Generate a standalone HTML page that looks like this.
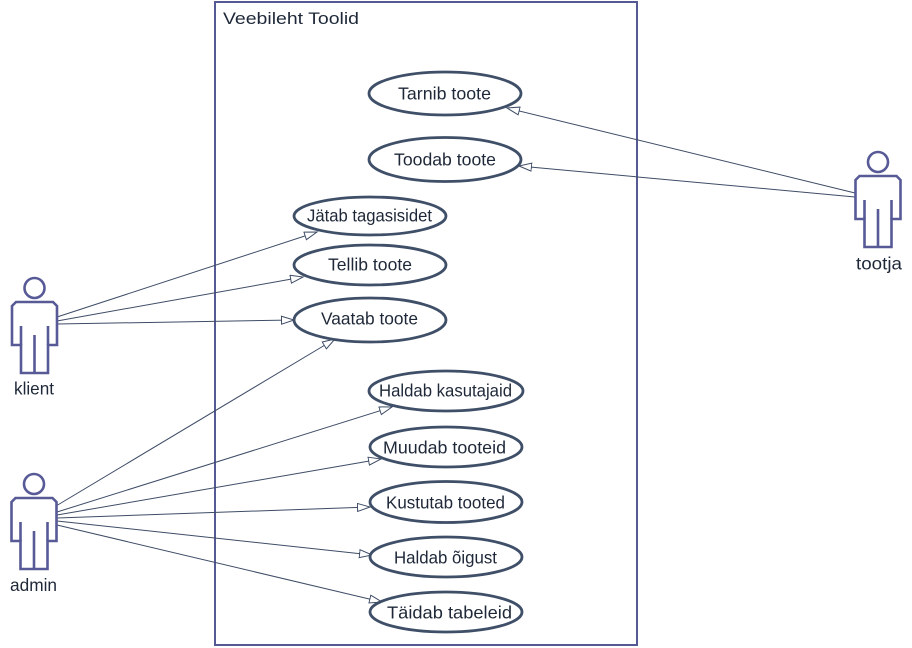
<!DOCTYPE html>
<html><head><meta charset="utf-8"><style>
html,body{margin:0;padding:0;background:#fff;}
svg{display:block;}
text{font-family:"Liberation Sans",sans-serif;fill:#1e2838;}
</style></head><body>
<svg width="912" height="648" viewBox="0 0 912 648" xmlns="http://www.w3.org/2000/svg">
<defs>
<marker id="ah" markerUnits="userSpaceOnUse" markerWidth="15" markerHeight="11" refX="13" refY="4.5" orient="auto">
<path d="M0.5,0.5 L13,4.5 L0.5,8.5 Z" fill="#fff" stroke="#3e4c66" stroke-width="1"/>
</marker>
<g id="actor" fill="none" stroke="#575a96" stroke-width="2.6" stroke-linejoin="miter">
<circle cx="0" cy="0" r="10" fill="#fff"/>
<path d="M-18.5,14 L18.5,14 L22.5,18 L22.5,57 L13.5,57 L13.5,85 L-13.5,85 L-13.5,57 L-22.5,57 L-22.5,18 Z" fill="#fff"/>
<path d="M-13.5,38 V57 M13.5,38 V57 M0,47 V85"/>
</g>
</defs>

<!-- system boundary -->
<rect x="215" y="2" width="422" height="643" fill="none" stroke="#565a94" stroke-width="2"/>
<text x="223" y="24" font-size="17" textLength="136" lengthAdjust="spacingAndGlyphs">Veebileht Toolid</text>

<!-- connectors -->
<g stroke="#3e4c66" stroke-width="1" fill="none" marker-end="url(#ah)">
<line x1="855" y1="193" x2="507" y2="108"/>
<line x1="855" y1="197" x2="519" y2="166"/>
<line x1="57" y1="317" x2="317" y2="232"/>
<line x1="57" y1="321" x2="303" y2="277"/>
<line x1="57" y1="324" x2="294" y2="320"/>
<line x1="56" y1="506" x2="335" y2="339"/>
<line x1="57" y1="512" x2="392" y2="407"/>
<line x1="57" y1="515" x2="381" y2="459"/>
<line x1="57" y1="518" x2="370" y2="507"/>
<line x1="57" y1="521" x2="372" y2="555"/>
<line x1="57" y1="525" x2="382" y2="602"/>
</g>

<!-- use cases -->
<g fill="#fff" stroke="#3f4f68" stroke-width="2.8">
<ellipse cx="445" cy="93.5" rx="76" ry="21.5"/>
<ellipse cx="445" cy="159.5" rx="76" ry="22"/>
<ellipse cx="370" cy="216" rx="76" ry="19"/>
<ellipse cx="370" cy="265" rx="76" ry="20"/>
<ellipse cx="370" cy="320" rx="76" ry="22"/>
<ellipse cx="446" cy="391" rx="77" ry="20"/>
<ellipse cx="446" cy="447" rx="76" ry="20"/>
<ellipse cx="446" cy="502" rx="76" ry="20.5"/>
<ellipse cx="446" cy="557" rx="76" ry="20"/>
<ellipse cx="446" cy="612" rx="76" ry="20"/>
</g>
<g font-size="17.5">
<text x="398" y="99.5" textLength="93" lengthAdjust="spacingAndGlyphs">Tarnib toote</text>
<text x="394" y="165.5" textLength="102" lengthAdjust="spacingAndGlyphs">Toodab toote</text>
<text x="307" y="221.5" textLength="125" lengthAdjust="spacingAndGlyphs">Jätab tagasisidet</text>
<text x="328" y="270.5" textLength="84" lengthAdjust="spacingAndGlyphs">Tellib toote</text>
<text x="321" y="324.5" textLength="97" lengthAdjust="spacingAndGlyphs">Vaatab toote</text>
<text x="379" y="396.5" textLength="133" lengthAdjust="spacingAndGlyphs">Haldab kasutajaid</text>
<text x="383" y="453.5" textLength="123" lengthAdjust="spacingAndGlyphs">Muudab tooteid</text>
<text x="386" y="508.5" textLength="119" lengthAdjust="spacingAndGlyphs">Kustutab tooted</text>
<text x="394" y="563.5" textLength="103" lengthAdjust="spacingAndGlyphs">Haldab õigust</text>
<text x="387" y="618.5" textLength="125" lengthAdjust="spacingAndGlyphs">Täidab tabeleid</text>
</g>

<!-- actors -->
<use href="#actor" x="34.5" y="288"/>
<use href="#actor" x="34" y="484"/>
<use href="#actor" x="878" y="162"/>
<g font-size="17.5">
<text x="14" y="394.5" textLength="40" lengthAdjust="spacingAndGlyphs">klient</text>
<text x="10" y="591" textLength="47" lengthAdjust="spacingAndGlyphs">admin</text>
<text x="856" y="269.5" textLength="46" lengthAdjust="spacingAndGlyphs">tootja</text>
</g>
</svg>
</body></html>
